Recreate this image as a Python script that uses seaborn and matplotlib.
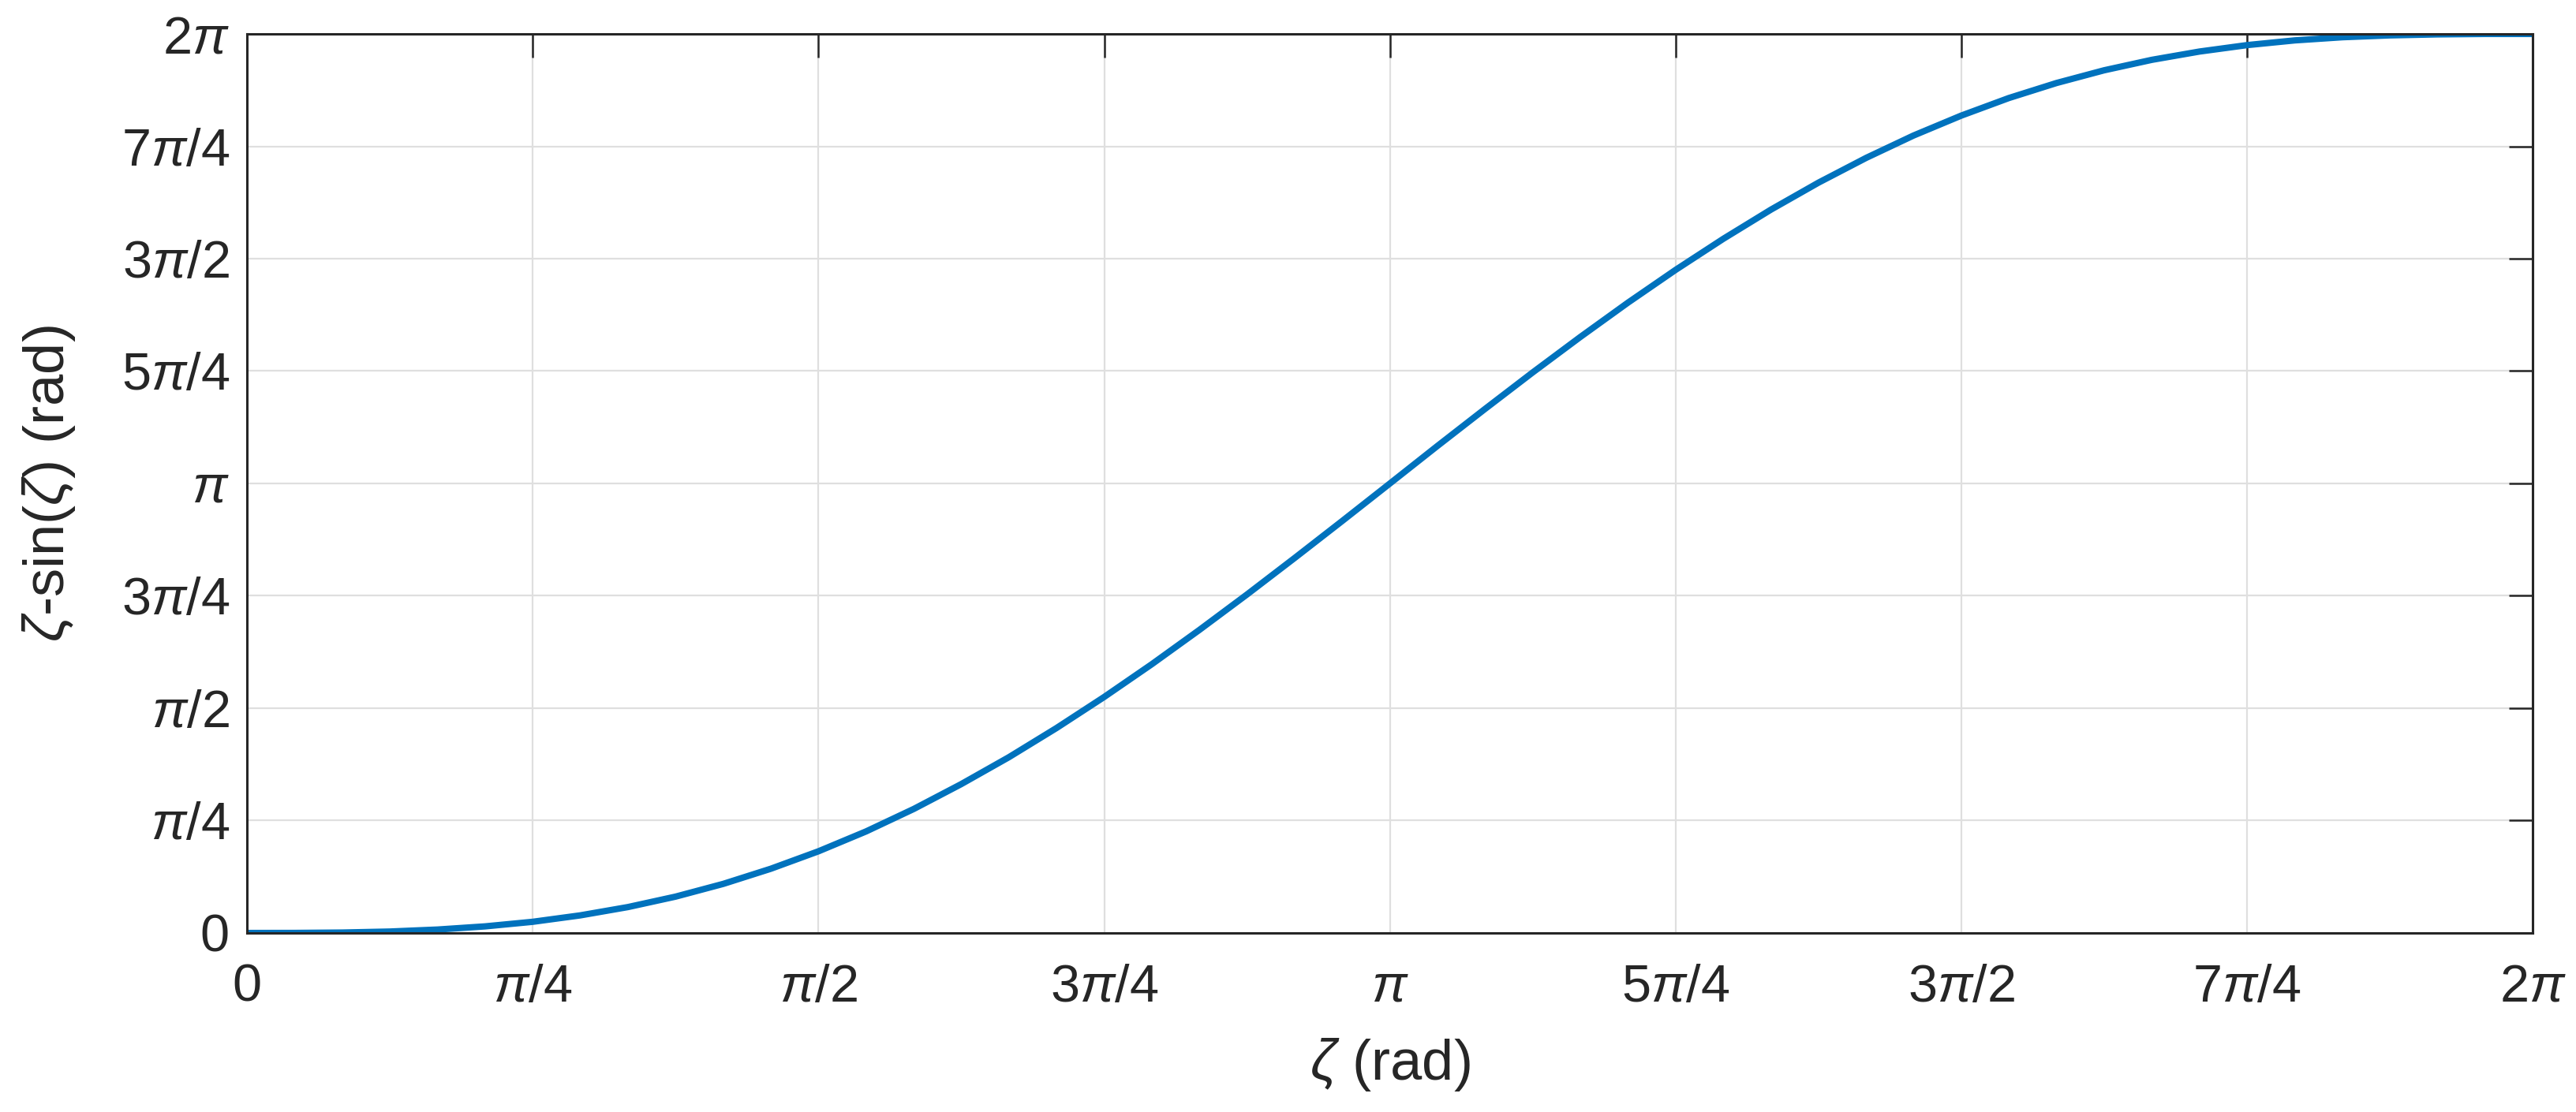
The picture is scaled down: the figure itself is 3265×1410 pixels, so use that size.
import numpy as np
import matplotlib
matplotlib.use("Agg")
import matplotlib.pyplot as plt
import seaborn as sns

zeta = [0.0, 0.131, 0.262, 0.393, 0.524, 0.654, 0.785, 0.916, 1.047, 1.178,
        1.309, 1.440, 1.571, 1.702, 1.833, 1.963, 2.094, 2.225, 2.356, 2.487,
        2.618, 2.749, 2.880, 3.011, 3.142, 3.272, 3.403, 3.534, 3.665, 3.796,
        3.927, 4.058, 4.189, 4.320, 4.451, 4.581, 4.712, 4.843, 4.974, 5.105,
        5.236, 5.367, 5.498, 5.629, 5.760, 5.890, 6.021, 6.152, 6.283]
zeta_minus_sin = [0.0, 0.0004, 0.003, 0.010, 0.024, 0.046, 0.078, 0.123, 0.181, 0.254,
                  0.343, 0.449, 0.571, 0.710, 0.867, 1.040, 1.228, 1.432, 1.649, 1.878,
                  2.118, 2.366, 2.621, 2.880, 3.142, 3.403, 3.662, 3.917, 4.165, 4.405,
                  4.634, 4.851, 5.055, 5.244, 5.417, 5.573, 5.712, 5.835, 5.940, 6.029,
                  6.102, 6.160, 6.205, 6.238, 6.260, 6.273, 6.280, 6.283, 6.283]

tick_vals = [0, np.pi/4, np.pi/2, 3*np.pi/4, np.pi, 5*np.pi/4, 3*np.pi/2, 7*np.pi/4, 2*np.pi]
tick_labels = ["0", r"$\pi$/4", r"$\pi$/2", r"3$\pi$/4", r"$\pi$",
               r"5$\pi$/4", r"3$\pi$/2", r"7$\pi$/4", r"2$\pi$"]

sns.set_style("white")
plt.rcParams["font.family"] = ["Liberation Sans", "DejaVu Sans"]
plt.rcParams["mathtext.fontset"] = "custom"
plt.rcParams["mathtext.rm"] = "Liberation Sans"
plt.rcParams["mathtext.it"] = "Liberation Sans:italic"

ink = "#262626"

fig = plt.figure(figsize=(16.325, 7.05), dpi=200)
ax = fig.add_axes([0.0959, 0.161, 0.8873, 0.8085])

sns.lineplot(x=zeta, y=zeta_minus_sin, color="#0072BD", linewidth=2.9, ax=ax)

ax.set_xlim(0, 2*np.pi)
ax.set_ylim(0, 2*np.pi)
ax.set_xticks(tick_vals)
ax.set_xticklabels(tick_labels)
ax.set_yticks(tick_vals)
ax.set_yticklabels(tick_labels)

ax.grid(True, color="#dfdfdf", linewidth=0.8)
ax.set_axisbelow(True)
for s in ax.spines.values():
    s.set_visible(True)
    s.set_color(ink)
    s.set_linewidth(1.1)

ax.tick_params(axis="both", which="both", direction="in", length=10.8, width=0.9,
               color=ink, labelcolor=ink, labelsize=24, top=True, right=True)
ax.tick_params(axis="x", pad=14)
ax.tick_params(axis="y", pad=8)

ax.set_xlabel(r"$\zeta$ (rad)", fontsize=26, color=ink, labelpad=11)
ax.set_ylabel(r"$\zeta$-sin($\zeta$) (rad)", fontsize=26, color=ink, labelpad=20)

fig.savefig("out.png", dpi=200)
